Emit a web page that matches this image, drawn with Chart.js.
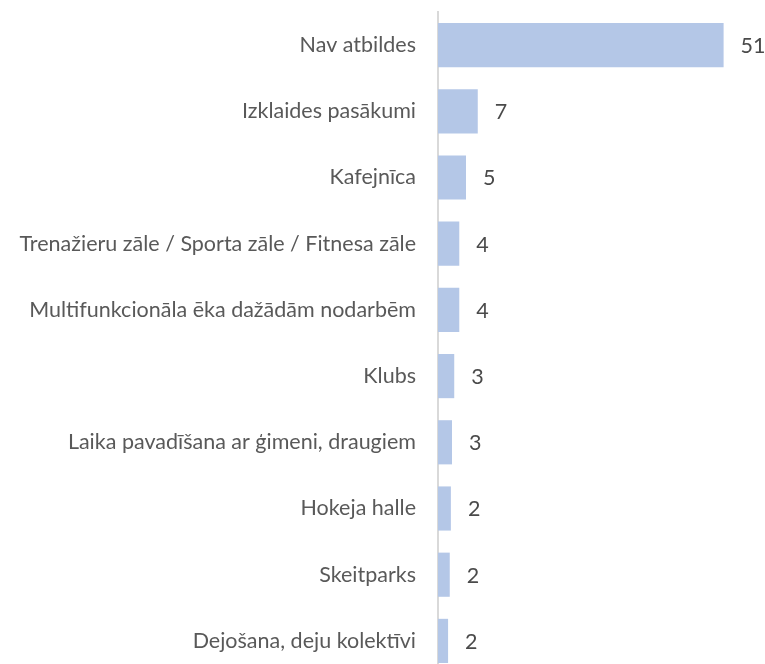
<!DOCTYPE html>
<html><head><meta charset="utf-8">
<script src="https://cdn.jsdelivr.net/npm/chart.js@4/dist/chart.umd.min.js"></script>
<style>
html,body{margin:0;padding:0;background:#fff;overflow:hidden;}
canvas{display:block;}
</style></head><body>
<canvas id="c" width="765" height="674"></canvas>
<script>
const categories = ["Nav atbildes","Izklaides pasākumi","Kafejnīca","Trenažieru zāle / Sporta zāle / Fitnesa zāle","Multifunkcionāla ēka dažādām nodarbēm","Klubs","Laika pavadīšana ar ģimeni, draugiem","Hokeja halle","Skeitparks","Dejošana, deju kolektīvi"];
const values = [51, 7.1, 5, 3.8, 3.8, 2.9, 2.5, 2.3, 2.1, 1.8];
const valueLabels = ["51","7","5","4","4","3","3","2","2","2"];
const FONT = "Lato, sans-serif";
const FSIZE = 21.5;

const labelPlugin = {
  id: 'valLabels',
  afterDatasetsDraw(chart){
    const ctx = chart.ctx;
    const meta = chart.getDatasetMeta(0);
    ctx.save();
    ctx.font = FSIZE + "px " + FONT;
    ctx.fillStyle = "#4a4a4a";
    ctx.textAlign = "left";
    ctx.textBaseline = "middle";
    meta.data.forEach((bar,i)=>{
      ctx.fillText(valueLabels[i], bar.x + 17, bar.y + 1);
    });
    ctx.restore();
  }
};

new Chart(document.getElementById('c'), {
  type: 'bar',
  data: { labels: categories, datasets: [{ data: values, backgroundColor: '#b4c7e7', borderWidth: 0, categoryPercentage: 1, barPercentage: 0.667 }] },
  options: {
    indexAxis: 'y',
    responsive: false,
    animation: false,
    layout: { padding: { top: 12, bottom: 0, left: 0, right: 19 } },
    plugins: { legend: { display: false }, tooltip: { enabled: false } },
    scales: {
      x: { display: false, min: 0, max: 55 },
      y: {
        afterFit(scale){ scale.width = 438; scale.paddingTop = 0; scale.paddingBottom = 0; },
        grid: { display: false, drawTicks: false },
        border: { display: true, color: '#d9d9d9', width: 2 },
        ticks: { color: '#595959', padding: 22, autoSkip: false, font: { family: FONT, size: FSIZE } }
      }
    }
  },
  plugins: [labelPlugin]
});
</script>
</body></html>
